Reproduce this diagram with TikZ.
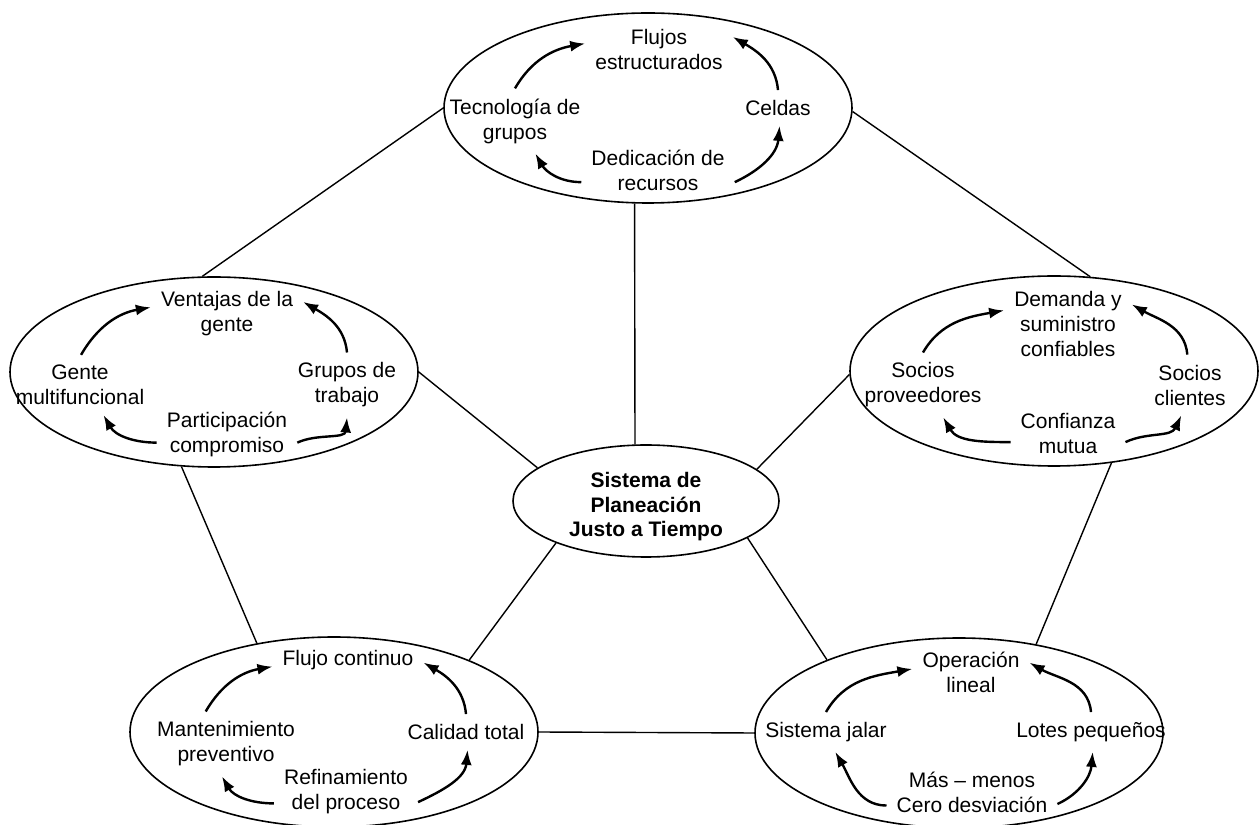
\documentclass[tikz,border=0pt]{standalone}
\usepackage{fontspec}
\setmainfont{Liberation Sans}
\usetikzlibrary{shapes.geometric,arrows.meta}
\begin{document}
\begin{tikzpicture}[x=1pt,y=1pt,
  elipse/.style={draw, ellipse, line width=1.6pt, minimum width=408pt, minimum height=190pt, inner sep=0pt},
  texto/.style={align=center, inner sep=10pt, font=\fontsize{21}{25}\selectfont},
  flecha/.style={line width=2.4pt, -{Latex[length=15pt,width=11pt]}},
  linea/.style={line width=1.4pt}]
\useasboundingbox (0,0) rectangle (1259,825);

% ellipses
\node[elipse] (T) at (648,717) {};
\node[elipse] (L) at (214,453) {};
\node[elipse] (R) at (1054,454) {};
\node[elipse] (BL) at (334,93) {};
\node[elipse] (BR) at (959,92) {};
\node[elipse, minimum width=266pt, minimum height=112pt] (C) at (646,324) {};
\node[texto, font=\fontsize{21}{24.5}\selectfont\bfseries] (titulo) at (646,318) {Sistema de\\Planeación\\Justo a Tiempo};

% connectors
\draw[linea] (T.180) -- (L.97);
\draw[linea] (T.359) -- (R.69);
\draw[linea] (T.262) -- (C.101);
\draw[linea] (L.0) -- (C.163);
\draw[linea] (R.181) -- (C.16);
\draw[linea] (L.251) -- (BL.131);
\draw[linea] (R.302) -- (BR.49);
\draw[linea] (C.205) -- (BL.28);
\draw[linea] (C.340) -- (BR.151);
\draw[linea] (BL.0) -- (BR.180);

% top
\node[texto] (flujos) at (659,775) {Flujos\\estructurados};
\node[texto] (tec) at (515,704) {Tecnología de\\grupos};
\node[texto] (celdas) at (778,717) {Celdas};
\node[texto] (dedic) at (658,655) {Dedicación de\\recursos};
\draw[flecha] (tec.90) to[out=60,in=190] (flujos.175);
\draw[flecha] (celdas.90) to[out=95,in=330] (flujos.10);
\draw[flecha] (dedic.189) to[out=180,in=300] (tec.302);
\draw[flecha] (dedic.351) to[out=25,in=265] (celdas.275);

% left
\node[texto] (ventajas) at (227,511) {Ventajas de la\\gente};
\node[texto] (gente) at (80,440) {Gente\\multifuncional};
\node[texto] (grupos) at (347,440) {Grupos de\\trabajo};
\node[texto] (partic) at (227,391) {Participación\\compromiso};
\draw[flecha] (gente.88) to[out=60,in=190] (ventajas.175);
\draw[flecha] (grupos.90) to[out=95,in=330] (ventajas.9);
\draw[flecha] (partic.187) to[out=180,in=300] (gente.308);
\draw[flecha] (partic.353) to[out=25,in=265] (grupos.270);

% right
\node[texto] (demanda) at (1068,501) {Demanda y\\suministro\\confiables};
\node[texto] (socprov) at (923,440) {Socios\\proveedores};
\node[texto] (soccli) at (1190,440) {Socios\\clientes};
\node[texto] (confianza) at (1068,392) {Confianza\\mutua};
\draw[flecha] (socprov.90) to[out=60,in=190] (demanda.168);
\draw[flecha] (soccli.95) to[out=95,in=330] (demanda.17);
\draw[flecha] (confianza.189) to[out=180,in=300] (socprov.302);
\draw[flecha] (confianza.351) to[out=25,in=245] (soccli.254);

% bottom left
\node[texto] (flujo) at (348,165) {Flujo continuo};
\node[texto] (mant) at (226,81) {Mantenimiento\\preventivo};
\node[texto] (calidad) at (466,93) {Calidad total};
\node[texto] (refin) at (346,33) {Refinamiento\\del proceso};
\draw[flecha] (mant.122) to[out=60,in=190] (flujo.185);
\draw[flecha] (calidad.90) to[out=95,in=330] (flujo.358);
\draw[flecha] (refin.189) to[out=180,in=300] (mant.263);
\draw[flecha] (refin.352) to[out=25,in=265] (calidad.275);

% bottom right
\node[texto] (oper) at (971,153) {Operación\\lineal};
\node[texto] (sistema) at (826,93) {Sistema jalar};
\node[texto] (lotes) at (1091,93) {Lotes pequeños};
\node[texto] (mas) at (972,33) {Más – menos\\Cero desviación};
\draw[flecha] (sistema.90) to[out=60,in=190] (oper.177);
\draw[flecha] (lotes.90) to[out=95,in=330] (oper.9);
\draw[flecha] (mas.189) to[out=180,in=300] (sistema.295);
\draw[flecha] (mas.352) to[out=25,in=265] (lotes.275);
\end{tikzpicture}
\end{document}
